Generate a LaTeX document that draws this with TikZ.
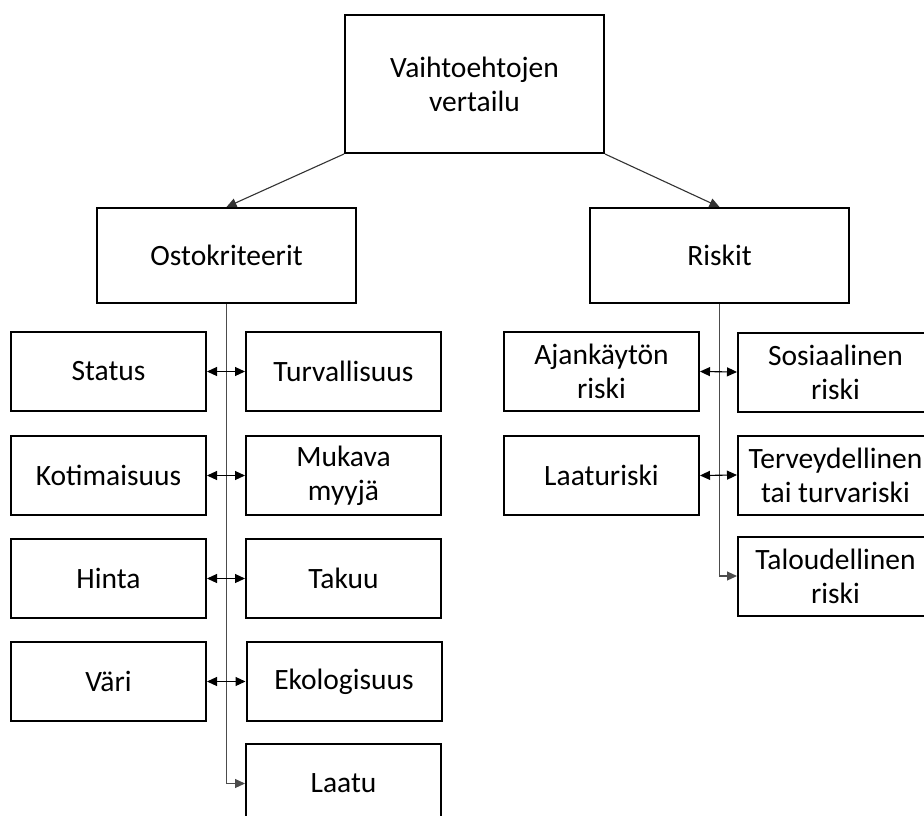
\documentclass[tikz,border=0pt]{standalone}
\usepackage{fontspec}
\setmainfont{Carlito}
\usetikzlibrary{arrows.meta}
\begin{document}
\begin{tikzpicture}[x=1pt,y=-1pt,
  box/.style={draw=black, line width=2pt, rectangle, align=center, inner sep=0pt,
    font=\fontsize{29.5}{34}\selectfont, minimum width=195pt, minimum height=79pt},
  conn/.style={draw=black!70, line width=1.1pt},
  tip/.style={-{Triangle[length=10pt,width=9pt]}},
  dtip/.style={{Triangle[length=10pt,width=9pt]}-{Triangle[length=10pt,width=9pt]}}]
\clip (0,0) rectangle (924,816);
\fill[white] (0,0) rectangle (924,816);
% top
\node[box, minimum width=259pt, minimum height=138pt] (top) at (474.5,84) {Vaihtoehtojen\\vertailu};
\node[box, minimum width=259pt, minimum height=95pt] (ost) at (226.5,255.5) {Ostokriteerit};
\node[box, minimum width=259pt, minimum height=95pt] (risk) at (719.5,255.5) {Riskit};
% left group
\node[box] (status) at (108.5,371.5) {Status};
\node[box] (koti) at (108.5,475.5) {Kotimaisuus};
\node[box] (hinta) at (108.5,578.5) {Hinta};
\node[box] (vari) at (108.5,681.5) {Väri};
\node[box] (turva) at (343.5,371.5) {Turvallisuus};
\node[box] (mukava) at (343.5,475.5) {Mukava\\myyjä};
\node[box] (takuu) at (343.5,578.5) {Takuu};
\node[box] (eko) at (344,681.5) {Ekologisuus};
\node[box] (laatu) at (343.5,783.5) {Laatu};
% right group
\node[box] (ajan) at (601.5,371.5) {Ajankäytön\\riski};
\node[box] (laaturiski) at (601.5,475.5) {Laaturiski};
\node[box] (sos) at (835.5,372) {Sosiaalinen\\riski};
\node[box] (terv) at (835.5,475) {Terveydellinen\\tai turvariski};
\node[box] (talo) at (835.5,576) {Taloudellinen\\riski};
% connectors
\draw[conn, black!80, tip] (top.south west) -- (ost.north);
\draw[conn, black!80, tip] (top.south east) -- (risk.north);
\draw[conn, tip] (ost.south) |- (laatu.west);
\draw[conn, tip] (risk.south) |- (talo.west);
\draw[conn, black, dtip] (status.east) -- (turva.west);
\draw[conn, black, dtip] (koti.east) -- (mukava.west);
\draw[conn, black, dtip] (hinta.east) -- (takuu.west);
\draw[conn, black, dtip] (vari.east) -- (eko.west);
\draw[conn, black, dtip] (ajan.east) -- (sos.west);
\draw[conn, black, dtip] (laaturiski.east) -- (terv.west);
\end{tikzpicture}
\end{document}
